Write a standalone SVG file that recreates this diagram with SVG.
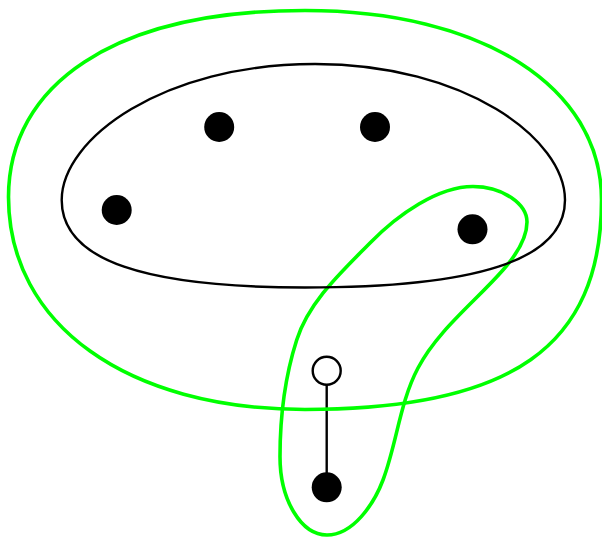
<svg xmlns="http://www.w3.org/2000/svg" width="602" height="537" viewBox="0 0 602 537">
<style>
.green{fill:none;stroke:#00ff00;stroke-width:3.6}
.hull{fill:none;stroke:#000;stroke-width:2.4}
.edge{stroke:#000;stroke-width:2.4;fill:none}
.filled{fill:#000}
.open{fill:#fff;stroke:#000;stroke-width:2.4}
</style>
<rect width="602" height="537" fill="#fff"/>
<g id="connectors">
<line class="edge" x1="326.7" y1="385" x2="326.7" y2="473"/>
</g>
<g id="outer-loop">
<path class="green" d="M 8.5 197 C 8.5 85.4 112.3 10.5 305 10.5 C 482 10.5 601.5 86.6 601.5 200 C 601.5 346.7 511.4 409.5 305 409.5 C 127.1 409.5 8.5 324.5 8.5 197 Z"/>
</g>
<g id="teardrop-loop">
<path class="green" d="M 327 535 C 353 535 373.8 504.3 383 480 C 396.8 443.5 399.7 402.5 418 368 C 438.1 330 474.6 302.3 503 270 C 514.9 256.5 527 240 527 222 C 527 204 502.8 186.5 473 186.5 C 438 186.5 398 214.4 370 243 C 341.6 271.9 309.1 301.4 296.7 340 C 284.8 377.2 280 417.7 280 456.7 C 280 499.9 301 535 327 535 Z"/>
</g>
<g id="ellipse-group">
<path class="hull" d="M 61.7 200 C 61.7 138.8 163 64 315 64 C 465 64 565 138.8 565 200 C 565 261 474 287.5 305 287.5 C 146.9 287.5 61.7 261.25 61.7 200 Z"/>
</g>
<g id="node-a"><circle class="filled" cx="219.2" cy="127" r="15"/></g>
<g id="node-b"><circle class="filled" cx="375" cy="127" r="15"/></g>
<g id="node-c"><circle class="filled" cx="116.7" cy="210" r="15"/></g>
<g id="node-d"><circle class="filled" cx="472.5" cy="229.3" r="15"/></g>
<g id="node-e"><circle class="open" cx="326.7" cy="370.7" r="14"/></g>
<g id="node-f"><circle class="filled" cx="326.7" cy="487.3" r="15"/></g>
</svg>
